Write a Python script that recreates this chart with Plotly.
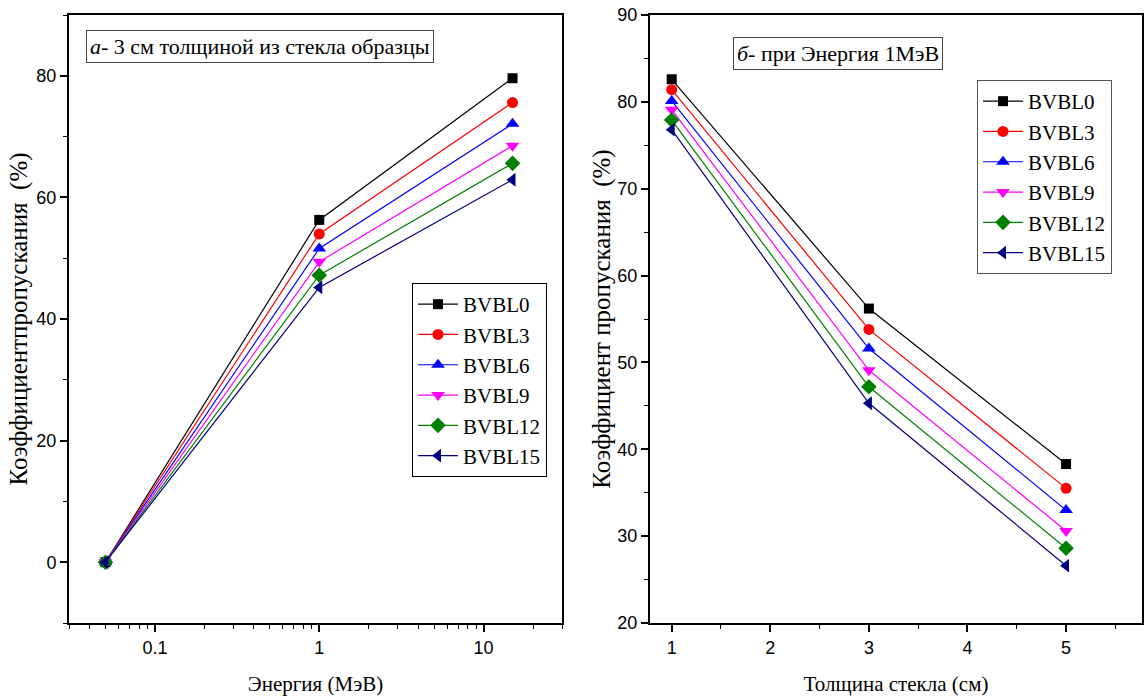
import plotly.graph_objects as go

series = ["BVBL0", "BVBL3", "BVBL6", "BVBL9", "BVBL12", "BVBL15"]
colors = ["#000000", "#FF0000", "#0000FF", "#FF00FF", "#008000", "#000080"]
symbols = ["square", "circle", "triangle-up", "triangle-down", "diamond", "triangle-left"]
sizes = [10, 11, 12, 12, 12, 12]

# Panel a: energy (MeV) vs transmission (%), 3 cm thickness
energy = [0.05, 1, 15]
trans_energy = {
    "BVBL0": [0, 56.3, 79.6],
    "BVBL3": [0, 54.0, 75.6],
    "BVBL6": [0, 51.6, 72.1],
    "BVBL9": [0, 49.4, 68.5],
    "BVBL12": [0, 47.2, 65.6],
    "BVBL15": [0, 45.2, 62.9],
}

# Panel b: thickness (cm) vs transmission (%), 1 MeV
thickness = [1, 3, 5]
trans_thick = {
    "BVBL0": [82.6, 56.2, 38.3],
    "BVBL3": [81.4, 53.8, 35.5],
    "BVBL6": [80.1, 51.6, 33.0],
    "BVBL9": [79.1, 49.1, 30.6],
    "BVBL12": [77.9, 47.2, 28.6],
    "BVBL15": [76.8, 45.3, 26.6],
}

left_xticks = [0.1, 1, 10]
left_xticktext = ["0.1", "1", "10"]
left_xminor = [0.03, 0.04, 0.05, 0.06, 0.07, 0.08, 0.09,
               0.2, 0.3, 0.4, 0.5, 0.6, 0.7, 0.8, 0.9,
               2, 3, 4, 5, 6, 7, 8, 9, 20, 30]

SERIF = "Liberation Serif"
SANS = "Liberation Sans"

fig = go.Figure()
for i, s in enumerate(series):
    fig.add_trace(go.Scatter(
        x=energy, y=trans_energy[s], mode="lines+markers", name=s,
        line=dict(color=colors[i], width=1.2),
        marker=dict(symbol=symbols[i], size=sizes[i], color=colors[i]),
        xaxis="x", yaxis="y", legend="legend"))
for i, s in enumerate(series):
    fig.add_trace(go.Scatter(
        x=thickness, y=trans_thick[s], mode="lines+markers", name=s,
        line=dict(color=colors[i], width=1.2),
        marker=dict(symbol=symbols[i], size=sizes[i], color=colors[i]),
        xaxis="x2", yaxis="y2", legend="legend2"))

W, H = 1144, 700
ydom = [1 - 623 / H, 1 - 15 / H]
tickfont = dict(family=SANS, size=18, color="black")
xtitlefont = dict(family=SERIF, size=21, color="black")
ytitlefont = dict(family=SERIF, size=25, color="black")
common = dict(showline=True, linecolor="black", linewidth=2, mirror=True,
              ticks="outside", ticklen=7, tickwidth=1.5, tickcolor="black",
              showgrid=False, zeroline=False, tickfont=tickfont, automargin=False)

fig.update_layout(
    width=W, height=H, margin=dict(l=0, r=0, t=0, b=0),
    paper_bgcolor="white", plot_bgcolor="white",
    xaxis=dict(domain=[69 / W, 562 / W], type="log",
               range=[-1.5229, 1.4771], tickvals=left_xticks, ticktext=left_xticktext,
               minor=dict(tickvals=left_xminor, ticks="outside", ticklen=4,
                          tickwidth=1.2, tickcolor="black"),
               title=dict(text="Энергия (МэВ)", font=xtitlefont, standoff=20),
               anchor="y", **common),
    yaxis=dict(domain=ydom, range=[-10, 90], tickvals=[0, 20, 40, 60, 80],
               minor=dict(dtick=10, tick0=0, ticks="outside", ticklen=4,
                          tickwidth=1.2, tickcolor="black"),
               title=dict(text="Коэффициентпропускания  (%)", font=ytitlefont, standoff=2),
               anchor="x", **common),
    xaxis2=dict(domain=[650 / W, 1142 / W], range=[0.78, 5.77], dtick=1, tick0=1,
                minor=dict(dtick=0.5, tick0=0.5, ticks="outside", ticklen=4,
                           tickwidth=1.2, tickcolor="black"),
                title=dict(text="Толщина стекла (см)", font=xtitlefont, standoff=20),
                anchor="y2", **common),
    yaxis2=dict(domain=ydom, range=[20, 90], dtick=10, tick0=20,
                minor=dict(dtick=5, tick0=20, ticks="outside", ticklen=4,
                           tickwidth=1.2, tickcolor="black"),
                title=dict(text="Коэффициент пропускания  (%)", font=ytitlefont, standoff=0),
                anchor="x2", **common),
    legend=dict(x=412 / W, y=1 - 283 / H, xanchor="left", yanchor="top",
                bordercolor="black", borderwidth=1, bgcolor="white",
                font=dict(family=SERIF, size=21, color="black"),
                tracegroupgap=0, itemwidth=40),
    legend2=dict(x=977 / W, y=1 - 80 / H, xanchor="left", yanchor="top",
                 bordercolor="#555555", borderwidth=1, bgcolor="white",
                 font=dict(family=SERIF, size=21, color="black"),
                 tracegroupgap=0, itemwidth=40),
    annotations=[
        dict(text="<i>а</i>- 3 см толщиной из стекла образцы", xref="paper", yref="paper",
             x=86 / W, y=1 - 30 / H, xanchor="left", yanchor="top", showarrow=False,
             font=dict(family=SERIF, size=22, color="black"),
             bordercolor="#444444", borderwidth=1, borderpad=3, bgcolor="white"),
        dict(text="<i>б</i>- при Энергия 1МэВ", xref="paper", yref="paper",
             x=733 / W, y=1 - 37 / H, xanchor="left", yanchor="top", showarrow=False,
             font=dict(family=SERIF, size=22, color="black"),
             bordercolor="#444444", borderwidth=1, borderpad=3, bgcolor="white"),
    ],
)

fig.write_html("out.html")
